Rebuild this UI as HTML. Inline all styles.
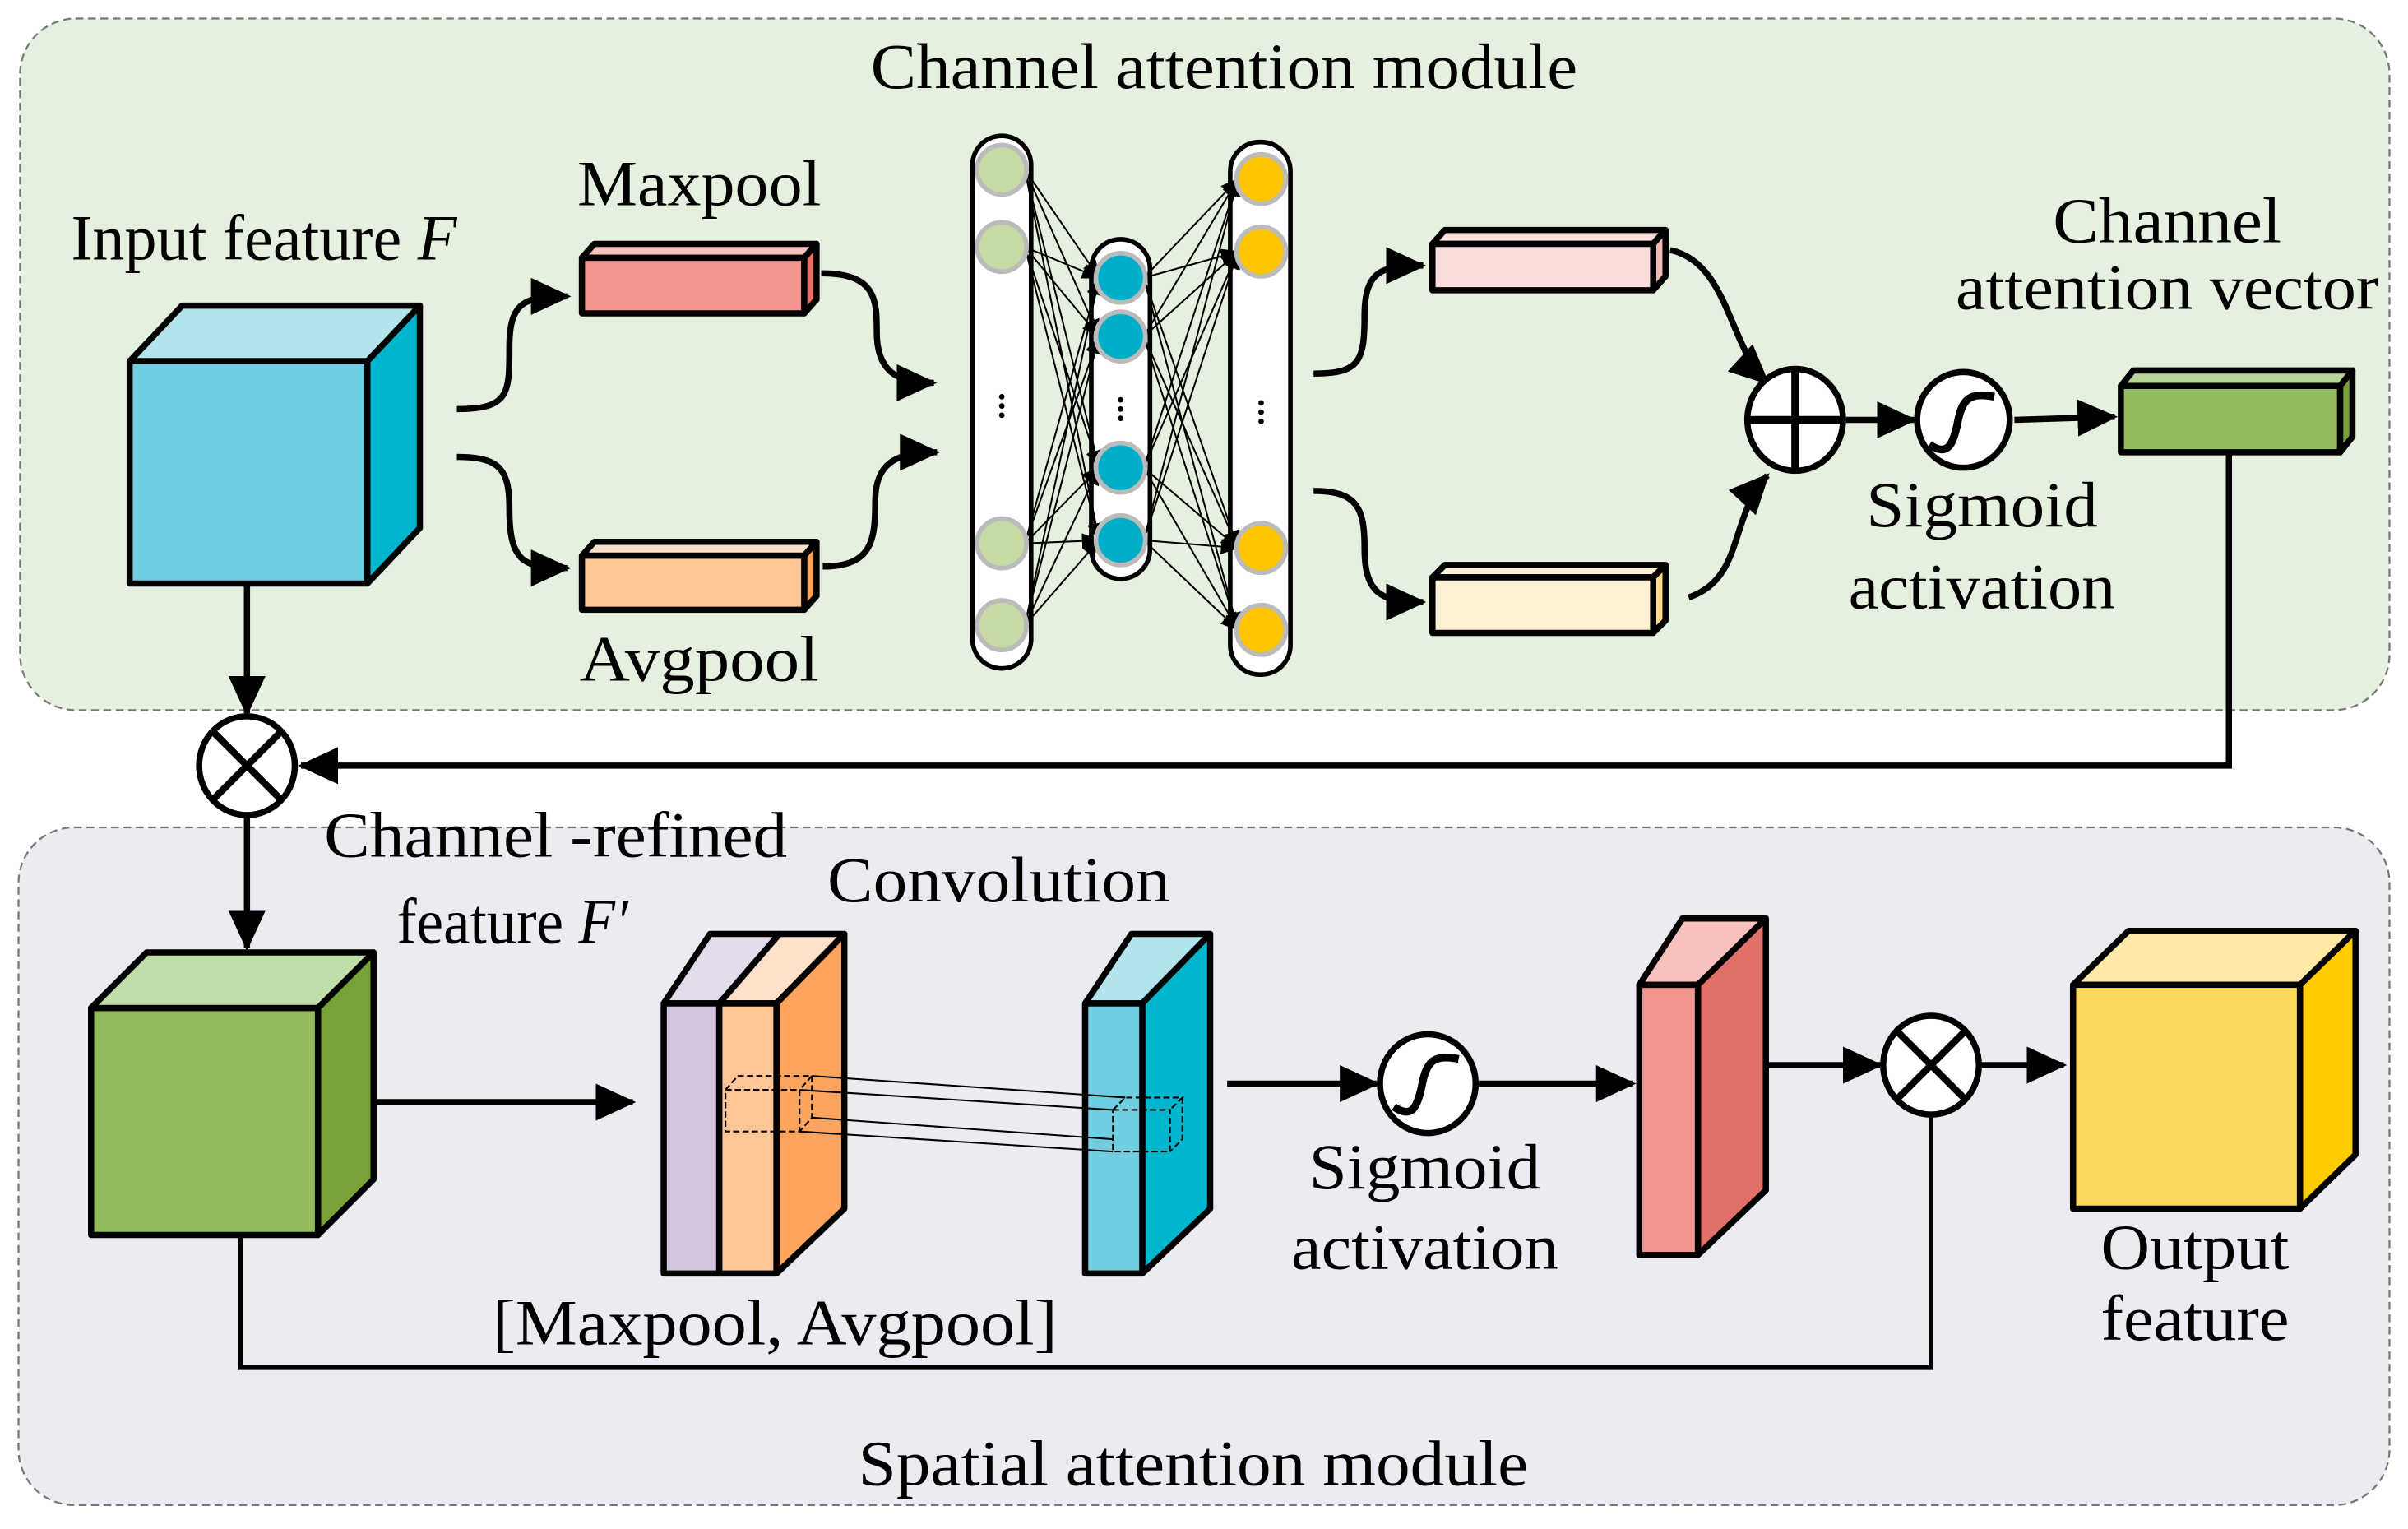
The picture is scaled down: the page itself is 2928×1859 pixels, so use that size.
<!DOCTYPE html>
<html><head><meta charset="utf-8"><style>
html,body{margin:0;padding:0;background:#fff;}
svg{display:block;}
text{font-family:"Liberation Serif",serif;fill:#000;}
</style></head><body>
<svg width="2928" height="1859" viewBox="0 0 1560 990.5" preserveAspectRatio="none" xmlns="http://www.w3.org/2000/svg">
<defs>
<marker id="a" markerUnits="userSpaceOnUse" markerWidth="26" markerHeight="24" refX="24" refY="12" orient="auto"><path d="M0,0 L26,12 L0,24 Z" fill="#000"/></marker>
<marker id="s" markerUnits="userSpaceOnUse" markerWidth="12" markerHeight="10" refX="11" refY="5" orient="auto"><path d="M0,0 L12,5 L0,10 Z" fill="#000"/></marker>
</defs>
<!-- panels -->
<rect x="13" y="12" width="1535" height="448" rx="36" fill="#e5f0de" stroke="#777" stroke-width="1.2" stroke-dasharray="5,3"/>
<rect x="12" y="536" width="1536" height="439" rx="36" fill="#eeeaf1" stroke="#777" stroke-width="1.2" stroke-dasharray="5,3"/>

<g stroke="#000" stroke-width="4" stroke-linejoin="round">
<!-- input cube -->
<polygon points="84,234 118,198 272,198 238,234" fill="#b3e3eb"/>
<polygon points="238,234 272,198 272,342 238,378" fill="#00b6cd"/>
<rect x="84" y="234" width="154" height="144" fill="#70cee0"/>
<!-- maxpool -->
<polygon points="377,167 385,158 529,158 521,167" fill="#f6c1bc"/>
<polygon points="521,167 529,158 529,194 521,203" fill="#e57168"/>
<rect x="377" y="167" width="144" height="36" fill="#f0968f"/>
<!-- avgpool -->
<polygon points="377,360 385,351 529,351 521,360" fill="#fee1cb"/>
<polygon points="521,360 529,351 529,386 521,395" fill="#fda55f"/>
<rect x="377" y="360" width="144" height="35" fill="#fec597"/>
<!-- pink out -->
<polygon points="928,158 936,149 1079,149 1071,158" fill="#f9dedb"/>
<polygon points="1071,158 1079,149 1079,179 1071,188" fill="#f0b8b2"/>
<rect x="928" y="158" width="143" height="30" fill="#f9dedb"/>
<!-- yellow out -->
<polygon points="928,374 936,366 1079,366 1071,374" fill="#fdf0d3"/>
<polygon points="1071,374 1079,366 1079,402 1071,410" fill="#fedc86"/>
<rect x="928" y="374" width="143" height="36" fill="#fdf0d3"/>
<!-- channel att vector -->
<polygon points="1374,250 1382,240 1524,240 1516,250" fill="#b9d69a"/>
<polygon points="1516,250 1524,240 1524,283 1516,293" fill="#78a13a"/>
<rect x="1374" y="250" width="142" height="43" fill="#93bb5d"/>
</g>

<!-- NN -->
<g stroke="#000" stroke-width="3" fill="#fff">
<rect x="630" y="88" width="38" height="345" rx="19"/>
<rect x="707" y="155" width="38" height="220" rx="19"/>
<rect x="797" y="92" width="39" height="345" rx="19"/>
</g>
<g stroke="#000" stroke-width="1.1" marker-end="url(#s)">
<path d="M664,110 L712,180"/><path d="M664,110 L712,218"/><path d="M664,110 L712,303"/><path d="M664,110 L712,350"/>
<path d="M664,160 L712,180"/><path d="M664,160 L712,218"/><path d="M664,160 L712,303"/><path d="M664,160 L712,350"/>
<path d="M664,352 L712,180"/><path d="M664,352 L712,218"/><path d="M664,352 L712,303"/><path d="M664,352 L712,350"/>
<path d="M664,405 L712,180"/><path d="M664,405 L712,218"/><path d="M664,405 L712,303"/><path d="M664,405 L712,350"/>
<path d="M741,180 L802,116"/><path d="M741,180 L802,163"/><path d="M741,180 L802,355"/><path d="M741,180 L802,408"/>
<path d="M741,218 L802,116"/><path d="M741,218 L802,163"/><path d="M741,218 L802,355"/><path d="M741,218 L802,408"/>
<path d="M741,303 L802,116"/><path d="M741,303 L802,163"/><path d="M741,303 L802,355"/><path d="M741,303 L802,408"/>
<path d="M741,350 L802,116"/><path d="M741,350 L802,163"/><path d="M741,350 L802,355"/><path d="M741,350 L802,408"/>
</g>
<g stroke="#bbb" stroke-width="3">
<g fill="#c5dba3"><circle cx="649" cy="110" r="16"/><circle cx="649" cy="160" r="16"/><circle cx="649" cy="352" r="16"/><circle cx="649" cy="405" r="16"/></g>
<g fill="#00aec8"><circle cx="726" cy="180" r="16"/><circle cx="726" cy="218" r="16"/><circle cx="726" cy="303" r="16"/><circle cx="726" cy="350" r="16"/></g>
<g fill="#ffc600"><circle cx="817" cy="116" r="16"/><circle cx="817" cy="163" r="16"/><circle cx="817" cy="355" r="16"/><circle cx="817" cy="408" r="16"/></g>
</g>
<g fill="#000"><circle cx="649" cy="257" r="1.8"/><circle cx="649" cy="263" r="1.8"/><circle cx="649" cy="269" r="1.8"/>
<circle cx="726" cy="259" r="1.8"/><circle cx="726" cy="265" r="1.8"/><circle cx="726" cy="271" r="1.8"/>
<circle cx="817" cy="261" r="1.8"/><circle cx="817" cy="267" r="1.8"/><circle cx="817" cy="273" r="1.8"/></g>

<!-- top connectors -->
<g stroke="#000" stroke-width="4" fill="none" marker-end="url(#a)">
<path d="M296,265 C330,265 330,255 330,225 C330,195 340,192 368,192"/>
<path d="M296,296 C325,296 330,305 330,330 C330,365 340,368 368,368"/>
<path d="M532,177 C568,177 568,195 568,215 C568,240 580,248 605,248"/>
<path d="M533,367 C565,367 567,350 567,325 C567,300 580,293 607,293"/>
<path d="M851,242 C880,242 884,235 884,205 C884,175 895,172 922,172"/>
<path d="M851,318 C880,318 884,330 884,355 C884,385 895,390 922,390"/>
<path d="M1082,162 C1120,170 1120,225 1145,248"/>
<path d="M1094,387 C1130,375 1120,335 1145,308"/>
<path d="M1196,272 L1240,272"/>
<path d="M1305,272 L1370,270"/>
<path d="M1444,293 L1444,496 L195,496"/>
<path d="M160,378 L160,462"/>
<path d="M160,528 L160,614"/>
</g>
<!-- plus circle -->
<g stroke="#000" stroke-width="4" fill="#fff">
<ellipse cx="1163" cy="272" rx="31" ry="33"/>
<ellipse cx="1272" cy="272" rx="30" ry="31"/>
<ellipse cx="160" cy="496" rx="31" ry="32"/>
<ellipse cx="925" cy="702" rx="31" ry="32"/>
<ellipse cx="1251" cy="690" rx="31" ry="32"/>
</g>
<g stroke="#000" stroke-width="5" fill="none">
<path d="M1163,239 L1163,305 M1132,272 L1194,272"/>
<path d="M1250,288 C1262,296 1265,288 1268,275 C1271,258 1276,254 1292,257" stroke-width="5"/>
<path d="M903,717 C915,725 918,717 921,704 C924,687 929,683 945,686" stroke-width="5"/>
<path d="M139,475 L181,517 M181,475 L139,517" stroke-width="4.5"/>
<path d="M1230,669 L1272,711 M1272,669 L1230,711" stroke-width="4.5"/>
</g>

<!-- bottom shapes -->
<g stroke="#000" stroke-width="4" stroke-linejoin="round">
<!-- green cube -->
<polygon points="59,653 95,617 242,617 206,653" fill="#c0dca8"/>
<polygon points="206,653 242,617 242,764 206,800" fill="#78a13a"/>
<rect x="59" y="653" width="147" height="147" fill="#93bb5d"/>
<!-- conv stack -->
<polygon points="430,650 460,605 505,605 466,650" fill="#e3dcea"/>
<polygon points="466,650 505,605 547,605 503,650" fill="#fee1cb"/>
<polygon points="503,650 547,605 547,783 503,825" fill="#fda55f"/>
<rect x="430" y="650" width="36" height="175" fill="#d2c4dd"/>
<rect x="466" y="650" width="37" height="175" fill="#fec597"/>
<!-- teal slab -->
<polygon points="703,650 733,605 784,605 740,650" fill="#b3e3eb"/>
<polygon points="740,650 784,605 784,783 740,825" fill="#00b6cd"/>
<rect x="703" y="650" width="37" height="175" fill="#70cee0"/>
<!-- red slab -->
<polygon points="1062,638 1090,595 1144,595 1100,638" fill="#f6c1bc"/>
<polygon points="1100,638 1144,595 1144,771 1100,813" fill="#e37068"/>
<rect x="1062" y="638" width="38" height="175" fill="#f0968f"/>
<!-- output cube -->
<polygon points="1343,638 1379,603 1526,603 1490,638" fill="#feeaa6"/>
<polygon points="1490,638 1526,603 1526,748 1490,783" fill="#ffcc00"/>
<rect x="1343" y="638" width="147" height="145" fill="#fdda5c"/>
</g>
<!-- dashed conv boxes -->
<g stroke="#000" stroke-width="1.1" fill="none" stroke-dasharray="4,2">
<path d="M470,706 L518,706 L518,733 L470,733 Z M470,706 L478,697 L526,697 L518,706 M526,697 L526,724 L518,733"/>
<path d="M721,719 L758,719 L758,746 L721,746 Z M721,719 L729,711 L766,711 L758,719 M766,711 L766,738 L758,746"/>
</g>
<g stroke="#000" stroke-width="1.1" fill="none">
<path d="M526,697 L729,711 M518,706 L721,719 M526,724 L721,738 M518,733 L721,746"/>
</g>
<g stroke="#000" stroke-width="4" fill="none" marker-end="url(#a)">
<path d="M242,714 L410,714"/>
<path d="M795,702 L892,702"/>
<path d="M958,702 L1058,702"/>
<path d="M1144,690 L1218,690"/>
<path d="M1283,690 L1337,690"/>
</g>
<path d="M156,800 L156,886 L1251,886 L1251,722" stroke="#000" stroke-width="3" fill="none"/>

<!-- text -->
<g font-size="42">
<text x="793" y="57" text-anchor="middle" textLength="458" lengthAdjust="spacingAndGlyphs">Channel attention module</text>
<text x="46" y="168" textLength="250" lengthAdjust="spacingAndGlyphs">Input feature <tspan font-style="italic">F</tspan></text>
<text x="453" y="133" text-anchor="middle" textLength="158" lengthAdjust="spacingAndGlyphs">Maxpool</text>
<text x="453" y="441" text-anchor="middle" textLength="155" lengthAdjust="spacingAndGlyphs">Avgpool</text>
<text x="1404" y="157" text-anchor="middle" textLength="148" lengthAdjust="spacingAndGlyphs">Channel</text>
<text x="1404" y="200" text-anchor="middle" textLength="274" lengthAdjust="spacingAndGlyphs">attention vector</text>
<text x="1284" y="341" text-anchor="middle" textLength="150" lengthAdjust="spacingAndGlyphs">Sigmoid</text>
<text x="1284" y="394" text-anchor="middle" textLength="173" lengthAdjust="spacingAndGlyphs">activation</text>
<text x="210" y="555" textLength="300" lengthAdjust="spacingAndGlyphs">Channel -refined</text>
<text x="257" y="611" textLength="150" lengthAdjust="spacingAndGlyphs">feature <tspan font-style="italic">F′</tspan></text>
<text x="647" y="584" text-anchor="middle" textLength="222" lengthAdjust="spacingAndGlyphs">Convolution</text>
<text x="502" y="871" text-anchor="middle" textLength="366" lengthAdjust="spacingAndGlyphs">[Maxpool, Avgpool]</text>
<text x="923" y="770" text-anchor="middle" textLength="150" lengthAdjust="spacingAndGlyphs">Sigmoid</text>
<text x="923" y="822" text-anchor="middle" textLength="173" lengthAdjust="spacingAndGlyphs">activation</text>
<text x="1422" y="822" text-anchor="middle" textLength="122" lengthAdjust="spacingAndGlyphs">Output</text>
<text x="1422" y="868" text-anchor="middle" textLength="122" lengthAdjust="spacingAndGlyphs">feature</text>
<text x="773" y="962" text-anchor="middle" textLength="434" lengthAdjust="spacingAndGlyphs">Spatial attention module</text>
</g>
</svg>
</body></html>
